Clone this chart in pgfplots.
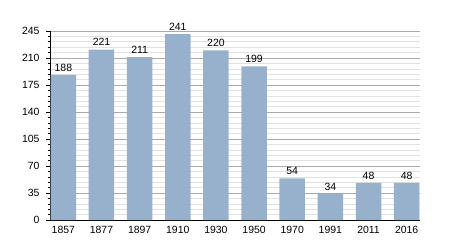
\documentclass[border=0pt]{standalone}
\usepackage{pgfplots}
\pgfplotsset{compat=1.18}
\usepackage{fontspec}
\setmainfont{Liberation Sans}
\definecolor{barc}{RGB}{151,176,203}
\definecolor{majg}{RGB}{170,170,170}
\definecolor{ming}{RGB}{225,225,225}
\begin{document}
\begin{tikzpicture}[x=1bp,y=1bp]
\useasboundingbox (0,0) rectangle (450,250);
\begin{axis}[
  at={(50bp,30bp)}, anchor=south west,
  scale only axis, width=370bp, height=189bp,
  xmin=-0.35, xmax=9.35, ymin=0, ymax=245,
  axis x line*=bottom, axis y line*=left,
  axis line style={black, line width=1pt},
  xtick=data,
  xticklabels={1857,1877,1897,1910,1930,1950,1970,1991,2011,2016},
  x tick style={draw=none},
  ytick={0,35,70,105,140,175,210,245},
  minor y tick num=4,
  y tick style={black, line width=0.6pt},
  major tick length=4bp, minor tick length=2.5bp,
  tick align=outside,
  ymajorgrids, yminorgrids,
  major grid style={majg, line width=0.8pt},
  minor grid style={ming, line width=0.6pt},
  tick label style={font=\fontsize{10.5}{12}\selectfont},
  /pgf/number format/assume math mode=true,
  xticklabel style={yshift=1bp},
  yticklabel style={xshift=-3bp},
  ybar, bar width=25.5bp,
  nodes near coords,
  every node near coord/.append style={font=\fontsize{10.5}{12}\selectfont, black, yshift=0bp},
  clip=false,
]
\addplot[fill=barc, draw=none] coordinates {
(0,188) (1,221) (2,211) (3,241) (4,220) (5,199) (6,54) (7,34) (8,48) (9,48)
};
\end{axis}
\end{tikzpicture}
\end{document}
